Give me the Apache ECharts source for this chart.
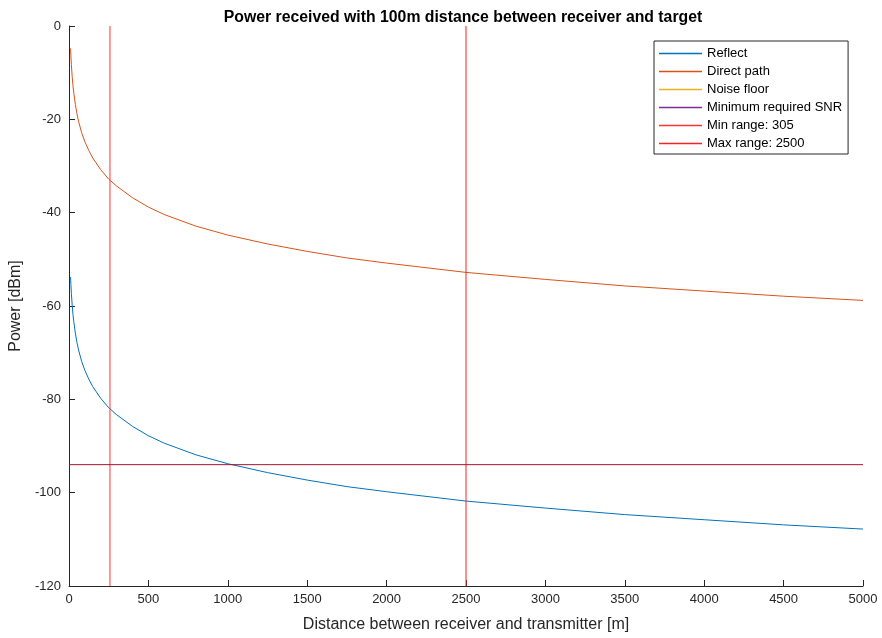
<!DOCTYPE html>
<html>
<head>
<meta charset="utf-8">
<script src="https://cdn.jsdelivr.net/npm/echarts@6/dist/echarts.min.js"></script>
<style>
  html, body {margin:0; padding:0; background:#fff;}
  #chart {width:882px; height:638px;}
</style>
</head>
<body>
<div id="chart"></div>
<script>
// distances [m]
let distance = [10, 12, 15, 20, 25, 30, 40, 50, 60, 80, 100, 125, 150, 200, 250, 300, 400, 500, 600, 800, 1000, 1250, 1500, 1750, 2000, 2500, 3000, 3500, 4000, 4500, 5000]
// received power [dBm]
let reflect = [-53.8, -55.4, -57.3, -59.8, -61.8, -63.3, -65.8, -67.8, -69.4, -71.9, -73.8, -75.7, -77.3, -79.8, -81.8, -83.3, -85.8, -87.8, -89.4, -91.9, -93.8, -95.7, -97.3, -98.7, -99.8, -101.8, -103.3, -104.7, -105.8, -106.9, -107.8]
let directPath = [-4.8, -6.4, -8.3, -10.8, -12.8, -14.3, -16.8, -18.8, -20.4, -22.9, -24.8, -26.7, -28.3, -30.8, -32.8, -34.3, -36.8, -38.8, -40.4, -42.9, -44.8, -46.7, -48.3, -49.7, -50.8, -52.8, -54.3, -55.7, -56.8, -57.9, -58.8]
let minRange = 258
let maxRange = 2500
let thresholdLevel = -94
let xRange = [0, 5000]
let yRange = [-120, 0]

let font = 'Liberation Sans, Arial, sans-serif'
let textCol = '#262626'

function pairs(xs, ys){
  return xs.map((x, i)=>[x, ys[i]])
}

// vertical marker lines
function vline(name, x, color){
  return {name:name, type:'line', symbol:'none', data:[[x, yRange[0]],[x, yRange[1]]], lineStyle:{color:color, width:1}, itemStyle:{color:color}}
}

let option = {
  animation:false,
  title:{
    text:'Power received with 100m distance between receiver and target',
    left:458, textAlign:'center', top:5,
    textStyle:{fontFamily:font, fontSize:15.8, fontWeight:'bold', color:'#000'}
  },
  grid:{left:69, right:19, top:26, bottom:52},
  legend:{
    data:['Reflect','Direct path','Noise floor','Minimum required SNR','Min range: 305','Max range: 2500'],
    orient:'vertical', left:654, top:41,
    padding:[6,6,4,5], itemGap:5,
    borderColor:'#262626', borderWidth:1, backgroundColor:'#fff',
    icon:'rect', itemWidth:43, itemHeight:1.5,
    textStyle:{fontFamily:font, fontSize:13, lineHeight:13, color:'#000'}
  },
  xAxis:{
    type:'value', min:xRange[0], max:xRange[1], interval:500,
    name:'Distance between receiver and transmitter [m]', nameLocation:'middle', nameGap:31,
    nameTextStyle:{fontFamily:font, fontSize:16, color:textCol},
    axisLine:{onZero:false, lineStyle:{color:textCol}},
    axisTick:{inside:true, length:6, lineStyle:{color:textCol}},
    axisLabel:{fontFamily:font, fontSize:13, color:textCol, margin:7, formatter:v=>String(v)},
    splitLine:{show:false}
  },
  yAxis:{
    type:'value', min:yRange[0], max:yRange[1], interval:20,
    name:'Power [dBm]', nameLocation:'middle', nameGap:42,
    nameTextStyle:{fontFamily:font, fontSize:16, color:textCol},
    axisLine:{show:true, onZero:false, lineStyle:{color:textCol}},
    axisTick:{show:true, inside:true, length:6, lineStyle:{color:textCol}},
    axisLabel:{fontFamily:font, fontSize:13, color:textCol, margin:8},
    splitLine:{show:false}
  },
  series:[
    {name:'Reflect', type:'line', symbol:'none', data:pairs(distance, reflect), lineStyle:{color:'#0072BD', width:1}, itemStyle:{color:'#0072BD'}},
    {name:'Direct path', type:'line', symbol:'none', data:pairs(distance, directPath), lineStyle:{color:'#D95319', width:1}, itemStyle:{color:'#D95319'}},
    {name:'Noise floor', type:'line', symbol:'none', data:[], lineStyle:{color:'#EDB120', width:1}, itemStyle:{color:'#EDB120'}},
    {name:'Minimum required SNR', type:'line', symbol:'none', data:[], lineStyle:{color:'#7E2F8E', width:1}, itemStyle:{color:'#7E2F8E'}},
    vline('Min range: 305', minRange, '#FF3333'),
    vline('Max range: 2500', maxRange, '#FF2020'),
    {name:'threshold', type:'line', symbol:'none', data:[[xRange[0], thresholdLevel],[xRange[1], thresholdLevel]], lineStyle:{color:'#A2142F', width:1}, itemStyle:{color:'#A2142F'}}
  ]
}

let myChart = echarts.init(document.getElementById('chart'))
myChart.setOption(option)
</script>
</body>
</html>
